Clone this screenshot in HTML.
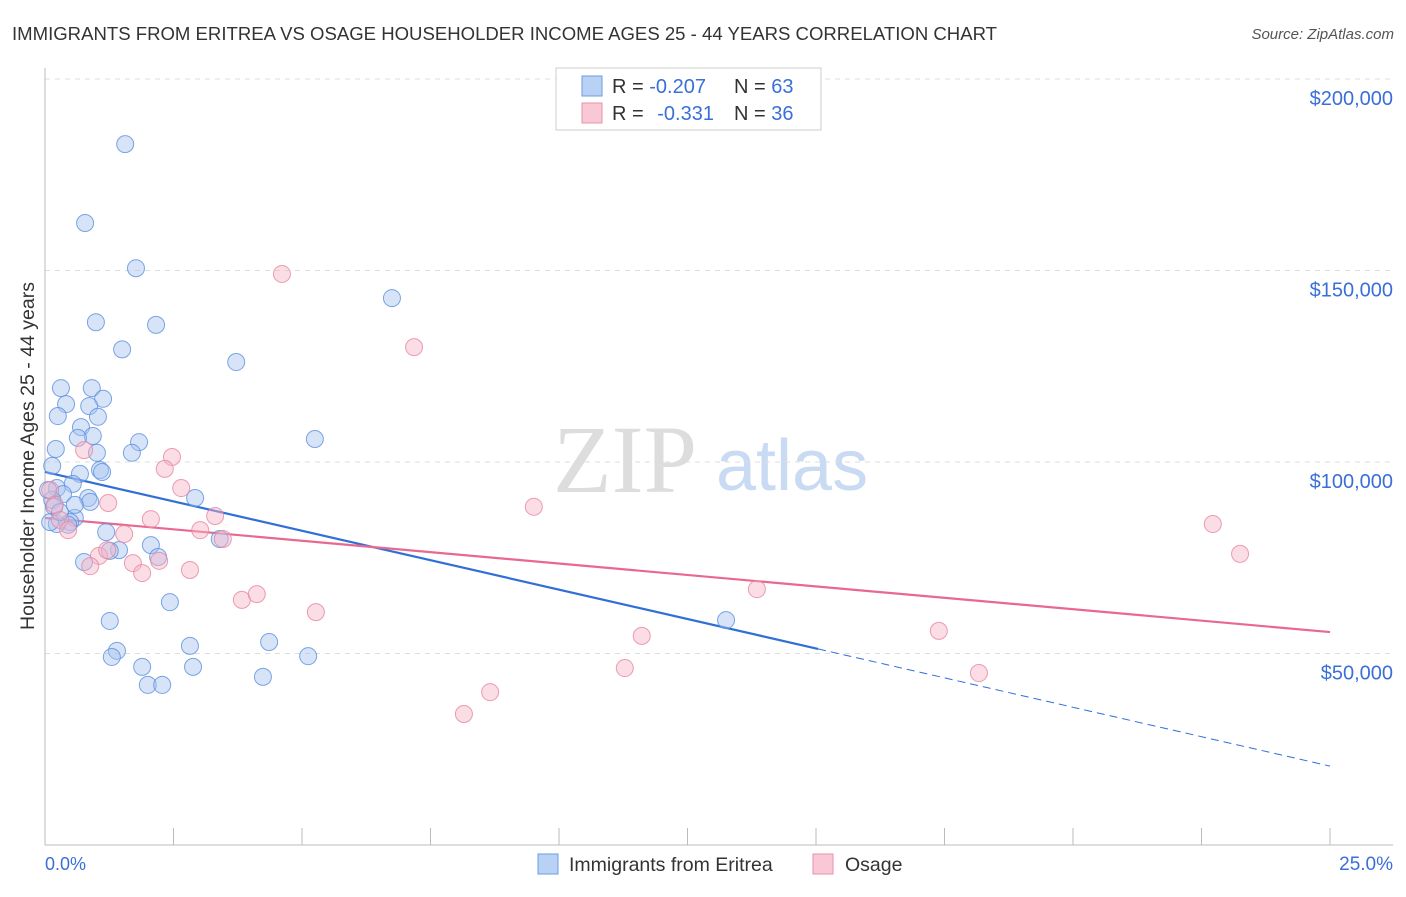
<!DOCTYPE html>
<html><head><meta charset="utf-8"><style>
body{margin:0;background:#fff;font-family:"Liberation Sans",sans-serif}
</style></head><body>
<svg width="1406" height="892" font-family="Liberation Sans, sans-serif">
<text x="12" y="40" font-size="18" fill="#333" textLength="985" lengthAdjust="spacingAndGlyphs">IMMIGRANTS FROM ERITREA VS OSAGE HOUSEHOLDER INCOME AGES 25 - 44 YEARS CORRELATION CHART</text>
<text x="1394" y="39" font-size="15" fill="#555" font-style="italic" text-anchor="end">Source: ZipAtlas.com</text>
<g>
<text x="553" y="492" font-size="96" font-family="Liberation Serif, serif" fill="#ddd">ZIP</text>
<text x="716" y="490" font-size="72" fill="#c9daf3">atlas</text>
</g>
<g id="grid"></g>
<g id="axes"></g>
<g id="trend"></g>
<g id="pts"></g>
<text transform="translate(34,456) rotate(-90)" font-size="19.5" fill="#333" text-anchor="middle">Householder Income Ages 25 - 44 years</text>
<text x="45" y="870" font-size="18" fill="#3a6fd8">0.0%</text>
<text x="1393" y="870" font-size="19" fill="#3a6fd8" text-anchor="end">25.0%</text>
<g>
<rect x="556" y="68" width="265" height="62" fill="#fff" stroke="#ccc"/>
<rect x="582" y="76" width="20" height="20" fill="#b9d1f5" stroke="#6d9be3"/>
<rect x="582" y="103" width="20" height="20" fill="#f9c8d6" stroke="#ea8fab"/>
<text x="612" y="93" font-size="20" fill="#333">R = <tspan fill="#3a6fd8">-0.207</tspan><tspan x="734">N = </tspan><tspan fill="#3a6fd8">63</tspan></text>
<text x="612" y="120" font-size="20" fill="#333">R = <tspan fill="#3a6fd8" dx="8">-0.331</tspan><tspan x="734">N = </tspan><tspan fill="#3a6fd8">36</tspan></text>
</g>
<g>
<rect x="538" y="854" width="20" height="20" fill="#b9d1f5" stroke="#6d9be3"/>
<text x="569" y="871" font-size="19.5" fill="#333">Immigrants from Eritrea</text>
<rect x="813" y="854" width="20" height="20" fill="#f9c8d6" stroke="#ea8fab"/>
<text x="845" y="871" font-size="19.5" fill="#333">Osage</text>
</g>
</svg>
<script>
const yTicks=[50000,100000,150000,200000];
const yTickLabels=["$50,000","$100,000","$150,000","$200,000"];
const xTicks=[0,2.5,5,7.5,10,12.5,15,17.5,20,22.5,25];
const blueX=[1.56,0.78,1.77,0.99,2.16,1.50,6.75,3.72,0.31,0.91,0.41,1.13,0.25,0.86,1.03,0.70,0.93,0.64,0.21,1.83,5.25,1.01,1.69,0.14,1.07,1.11,0.68,0.23,0.54,0.35,0.84,0.88,2.92,0.14,0.18,0.58,0.49,0.45,0.23,1.19,2.06,3.40,1.44,1.26,2.20,0.76,1.26,2.43,4.36,2.82,5.12,1.40,1.30,1.89,2.88,4.24,2.00,2.28,13.25,0.06,0.10,0.29,0.58];
const blueY=[183.0,162.4,150.6,136.5,135.8,129.4,142.8,126.1,119.3,119.3,115.1,116.5,112.0,114.6,111.8,109.1,106.8,106.3,103.4,105.2,106.0,102.4,102.4,99.0,97.9,97.4,96.9,93.2,94.3,91.6,90.6,89.6,90.6,90.1,88.3,85.4,84.3,83.6,83.8,81.7,78.3,79.9,77.0,76.8,75.2,73.9,58.5,63.4,53.0,52.0,49.3,50.7,49.1,46.5,46.5,43.9,41.8,41.8,58.7,92.7,84.3,86.9,88.8];
const pinkX=[4.61,7.18,0.76,2.47,2.33,2.65,1.23,9.51,2.06,3.31,3.02,1.54,1.05,1.21,0.88,1.71,2.22,1.89,2.82,3.83,4.12,5.27,13.85,11.61,11.28,8.66,8.15,17.39,18.17,22.72,23.25,0.29,0.45,0.10,0.19,3.46];
const pinkY=[149.1,130.0,103.1,101.3,98.2,93.2,89.3,88.3,85.1,85.9,82.2,81.2,75.5,77.0,72.8,73.6,74.2,71.0,71.8,64.0,65.5,60.8,66.8,54.6,46.2,39.9,34.2,55.9,44.9,83.8,76.0,84.9,82.2,92.7,88.8,79.9];
const blueTrend=[97.4,20.6]; const blueSolidEnd=15.04;
const pinkTrend=[85.4,55.6];
const NS="http://www.w3.org/2000/svg";
const X=v=>45+v*51.4;
const Y=v=>845-v*191.5/50000;
function mk(tag,attrs,parent){const e=document.createElementNS(NS,tag);for(const k in attrs)e.setAttribute(k,attrs[k]);document.getElementById(parent).appendChild(e);return e;}
yTicks.forEach((t,i)=>{
 const g=mk('line',{x1:45,x2:1393,y1:Y(t),y2:Y(t),stroke:'#ddd','stroke-dasharray':'5,5'},'grid');
 
 
 const l=mk('text',{x:1393,y:Y(t)+26,'text-anchor':'end','font-size':20,fill:'#3a6fd8'},'grid');
 l.textContent=yTickLabels[i];
 
 
});
const ax=mk('line',{x1:45,x2:45,y1:68,y2:845,stroke:'#bbb'},'axes');


const bx=mk('line',{x1:45,x2:1393,y1:845,y2:845,stroke:'#bbb'},'axes');


xTicks.forEach(t=>{
 const k=mk('line',{x1:X(t),x2:X(t),y1:828,y2:845,stroke:'#bbb'},'axes');
 
 
});
function pts(xs,ys,fill,stroke,name){
 xs.forEach((x,i)=>{
  const c=mk('circle',{cx:X(x),cy:Y(ys[i]*1000),r:8.5,fill:fill,'fill-opacity':0.45,stroke:stroke,'stroke-opacity':0.8,'stroke-width':1},'pts');
  
  
 });
}
pts(blueX,blueY,'#a7c4f0','#5b8fe0','eritrea-point');
pts(pinkX,pinkY,'#f6b3c7','#e8859f','osage-point');
const bAt=x=>blueTrend[0]+(blueTrend[1]-blueTrend[0])*x/25;
const t1=mk('line',{x1:X(0),y1:Y(bAt(0)*1000),x2:X(blueSolidEnd),y2:Y(bAt(blueSolidEnd)*1000),stroke:'#2f6fd6','stroke-width':2.2},'trend');


const t2=mk('line',{x1:X(blueSolidEnd),y1:Y(bAt(blueSolidEnd)*1000),x2:X(25),y2:Y(bAt(25)*1000),stroke:'#2f6fd6','stroke-width':1,'stroke-dasharray':'8,5'},'trend');


const t3=mk('line',{x1:X(0),y1:Y(pinkTrend[0]*1000),x2:X(25),y2:Y(pinkTrend[1]*1000),stroke:'#e8688f','stroke-width':2.2},'trend');


</script>
</body></html>
